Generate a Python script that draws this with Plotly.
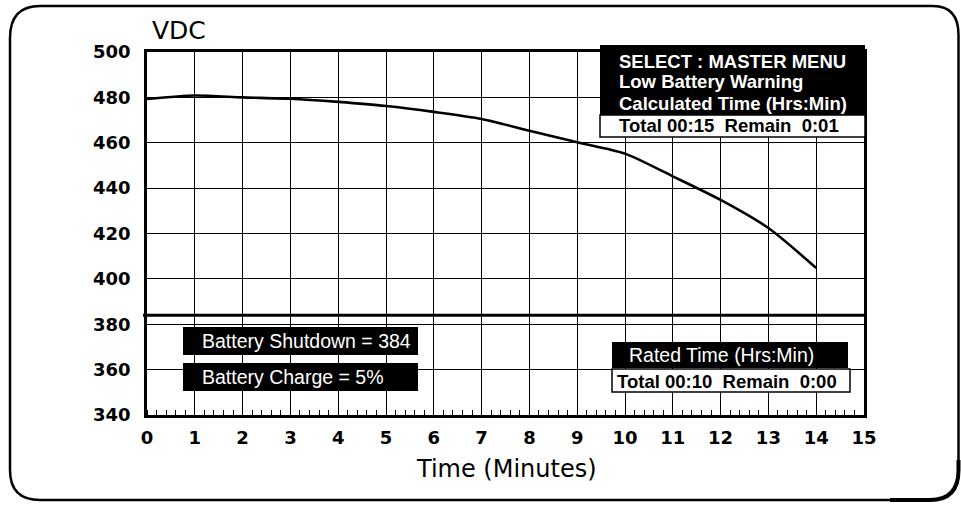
import plotly.graph_objects as go

# Battery discharge curve: DC bus voltage vs. elapsed time
time_min = [0, 1, 2, 3, 4, 5, 6, 7, 8, 9, 10, 11, 12, 13, 14]
vdc = [479.3, 480.8, 480.0, 479.4, 478.0, 476.2, 473.6, 470.5, 465.3,
       460.2, 455.2, 445.2, 434.8, 422.4, 404.8]

x_ticks = list(range(0, 16))
y_ticks = [340, 360, 380, 400, 420, 440, 460, 480, 500]
shutdown_vdc = 384

menu_lines = ["SELECT : MASTER MENU", "Low Battery Warning", "Calculated Time (Hrs:Min)"]
calc_time = "Total 00:15\u00a0\u00a0Remain\u00a0\u00a00:01"
rated_title = "Rated Time (Hrs:Min)"
rated_time = "Total 00:10\u00a0\u00a0Remain\u00a0\u00a00:00"
shutdown_text = "Battery Shutdown = 384"
charge_text = "Battery Charge = 5%"

W, H = 961, 506
ML, MR, MT, MB = 147, 97, 52, 91
PW, PH = W - ML - MR, H - MT - MB


def px(x):
    return (x - ML) / PW


def py(y):
    return (H - MB - y) / PH


fig = go.Figure()
fig.add_trace(go.Scatter(
    x=time_min, y=vdc, mode="lines",
    line=dict(color="black", width=2.6, shape="spline", smoothing=0.7),
    showlegend=False, hoverinfo="skip",
))

shapes = []
ann = []

# rounded outer frame
frame = (
    f"M {px(40)},{py(6)} L {px(933)},{py(6)} Q {px(958.5)},{py(6)} {px(958.5)},{py(35)} "
    f"L {px(958.5)},{py(470)} Q {px(958.5)},{py(500)} {px(930)},{py(500)} "
    f"L {px(40)},{py(500)} Q {px(10)},{py(500)} {px(10)},{py(470)} "
    f"L {px(10)},{py(38)} Q {px(10)},{py(6)} {px(40)},{py(6)} Z"
)
shapes.append(dict(type="path", xref="paper", yref="paper", path=frame,
                   line=dict(color="black", width=2.5), layer="above"))
# heavier lower-right corner
shapes.append(dict(type="path", xref="paper", yref="paper",
                   path=f"M {px(958.5)},{py(460)} L {px(958.5)},{py(470)} Q {px(958.5)},{py(500)} {px(930)},{py(500)} L {px(890)},{py(500)}",
                   line=dict(color="black", width=4), layer="above"))

# shutdown threshold line
shapes.append(dict(type="line", xref="paper", yref="y", x0=px(143), x1=px(866),
                   y0=shutdown_vdc, y1=shutdown_vdc,
                   line=dict(color="black", width=3), layer="above"))


def box(x0, x1, y0, y1, fill, border=None):
    shapes.append(dict(type="rect", xref="paper", yref="paper",
                       x0=px(x0), x1=px(x1), y0=py(y1), y1=py(y0),
                       fillcolor=fill,
                       line=dict(color=border or fill, width=1.5 if border else 0),
                       layer="above"))


def label(text, x, y, color, bold, size=18):
    ann.append(dict(text=text, xref="paper", yref="paper", x=px(x), y=py(y),
                    xanchor="left", yanchor="middle", showarrow=False,
                    font=dict(family="Liberation Sans", size=size, color=color,
                              weight="bold" if bold else "normal")))


# status panel, upper right
box(600, 865, 45, 115, "black")
box(600, 865, 115, 137, "white", "black")
for i, t in enumerate(menu_lines):
    label(t, 617, 61 + 21 * i, "white", True, 18.5)
label(calc_time, 617, 126, "black", True, 18.5)

# shutdown / charge panel
box(183, 418, 327, 355, "black")
box(183, 418, 363, 391, "black")
label(shutdown_text, 200, 341, "white", False, 19.5)
label(charge_text, 200, 377, "white", False, 19.5)

# rated time panel
box(612, 848, 342, 368, "black")
box(612, 850, 369, 392, "white", "black")
label(rated_title, 627, 355, "white", False, 19.5)
label(rated_time, 615, 381, "black", True, 18.5)

# axis captions
ann.append(dict(text="VDC", xref="paper", yref="paper", x=px(150), y=py(30),
                xanchor="left", yanchor="middle", showarrow=False,
                font=dict(family="DejaVu Sans", size=25, color="black")))
ann.append(dict(text="Time (Minutes)", xref="paper", yref="paper", x=px(506), y=py(469),
                xanchor="center", yanchor="middle", showarrow=False,
                font=dict(family="DejaVu Sans", size=24, color="black")))

tick_font = dict(family="DejaVu Sans", size=18, color="black", weight="bold")

fig.update_layout(
    width=W, height=H,
    margin=dict(l=ML, r=MR, t=MT, b=MB, pad=0),
    paper_bgcolor="white", plot_bgcolor="white",
    shapes=shapes, annotations=ann,
    xaxis=dict(range=[0, 15], tickvals=x_ticks, ticktext=[str(v) for v in x_ticks],
               showgrid=True, gridcolor="black", gridwidth=1.3,
               showline=True, linecolor="black", linewidth=2.5, mirror=True,
               ticks="", tickfont=tick_font, ticklabelstandoff=5, zeroline=False,
               minor=dict(dtick=0.2, ticks="inside", ticklen=5, tickcolor="black",
                          tickwidth=1, showgrid=False)),
    yaxis=dict(range=[340, 500], tickvals=y_ticks, ticktext=[str(v) for v in y_ticks],
               showgrid=True, gridcolor="black", gridwidth=1.3,
               showline=True, linecolor="black", linewidth=2.5, mirror=True,
               ticks="", tickfont=tick_font, ticklabelstandoff=10, zeroline=False),
)

fig.write_html("out.html")
